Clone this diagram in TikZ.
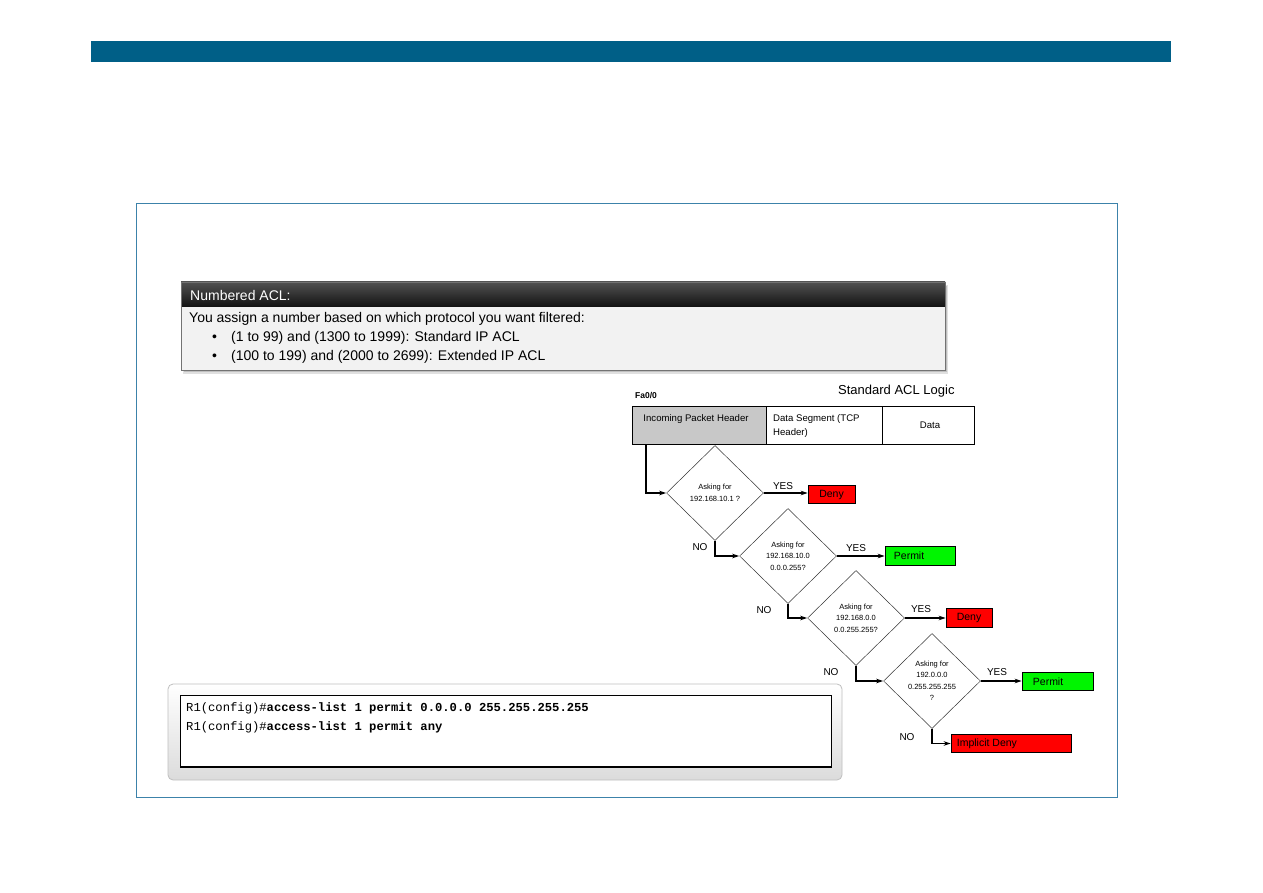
\documentclass[tikz,border=0pt]{standalone}
\usepackage{fontspec}
\setmainfont{Liberation Sans}
\setmonofont{Liberation Mono}
\usetikzlibrary{shapes.geometric,arrows.meta,shadows,calc}
\definecolor{barblue}{RGB}{0,95,135}
\definecolor{framebl}{RGB}{60,130,170}
\definecolor{cellgray}{RGB}{200,200,200}
\definecolor{dred}{RGB}{255,0,0}
\definecolor{dgreen}{RGB}{0,245,0}
\tikzset{
  diam/.style={draw=black!80, diamond, inner sep=0pt, minimum width=97pt, minimum height=95pt, line width=0.5pt, align=center, font=\fontsize{7.5}{11.5}\selectfont},
  res/.style={draw, line width=0.6pt, minimum height=18.5pt, inner sep=0pt},
  restext/.style={inner sep=0pt, font=\fontsize{10.5}{11}\selectfont},
  arr/.style={-{Stealth[length=7pt,width=4.5pt]}, line width=1.2pt},
  lbl/.style={font=\fontsize{10}{11}\selectfont, inner sep=0pt},
  cell/.style={draw, line width=0.6pt, minimum height=38pt, inner sep=0pt, anchor=north west},
  acltext/.style={anchor=west, font=\fontsize{14}{16}\selectfont, inner sep=0pt},
  codetext/.style={anchor=west, inner sep=0pt, font=\fontsize{12.2}{14}\ttfamily},
}
\begin{document}
\begin{tikzpicture}[x=1pt,y=-1pt]
\useasboundingbox (0,0) rectangle (1263,893);
\fill[white] (0,0) rectangle (1263,893);
% top bar
\fill[barblue] (91,41) rectangle (1171,62);
% outer frame
\draw[framebl, line width=0.8pt] (136,203) rectangle (1117,797);

% Numbered ACL box
\fill[black!12] (183,285) rectangle (948,374);
\fill[black!25] (184,286) rectangle (947,372);
\draw[black!55, fill=black!5, line width=0.6pt] (181,282) rectangle (945,370);
\shade[top color=black!68, bottom color=black!92] (181,282) rectangle (945,306);
\draw[black!55, line width=0.6pt] (181,282) rectangle (945,370);
\node[acltext] (hdr) at (190,295) {\textcolor{white}{Numbered ACL:}};
\node[acltext] (l1) at (189,319) {You assign a number based on which protocol you want filtered:};
\node[acltext] (b1) at (212,338) {•};
\node[acltext] (l2) at (231,338) {(1 to 99) and (1300 to 1999): Standard IP ACL};
\node[acltext] (b2) at (212,357) {•};
\node[acltext] (l3) at (231,357) {(100 to 199) and (2000 to 2699): Extended IP ACL};

% Standard ACL Logic
\node[anchor=west, font=\fontsize{8.5}{9}\selectfont\bfseries, inner sep=0pt] (fa) at (635,396) {Fa0/0};
\node[anchor=west, font=\fontsize{13}{14}\selectfont, inner sep=0pt] (title) at (838,391) {Standard ACL Logic};

\node[cell, fill=cellgray, minimum width=134pt] (c1) at (632,406) {};
\node[cell, minimum width=116pt] (c2) at (766,406) {};
\node[cell, minimum width=92pt] (c3) at (882,406) {};
\node[lbl, font=\fontsize{9.6}{11}\selectfont] (t1) at (696,419) {Incoming Packet Header};
\node[lbl, font=\fontsize{9.6}{14}\selectfont, anchor=north west, align=left] (t2) at (773,414) {Data Segment (TCP\\Header)};
\node[lbl, font=\fontsize{9.6}{11}\selectfont] (t3) at (930,425) {Data};

% diamonds
\node[diam] (d1) at (715,493) {Asking for\\192.168.10.1 ?};
\node[diam] (d2) at (788,556) {Asking for\\192.168.10.0\\0.0.0.255?};
\node[diam] (d3) at (856,618) {Asking for\\192.168.0.0\\0.0.255.255?};
\node[diam] (d4) at (932,681) {Asking for\\192.0.0.0\\0.255.255.255\\?};

% results
\node[res, fill=dred, minimum width=47pt] (r1) at (831.5,494.5) {};
\node[res, fill=dgreen, minimum width=70pt] (r2) at (920,556) {};
\node[res, fill=dred, minimum width=46pt] (r3) at (969,618) {};
\node[res, fill=dgreen, minimum width=71pt] (r4) at (1057.5,681.5) {};
\node[res, fill=dred, minimum width=120pt] (r5) at (1011,743.5) {};
\node[restext] (r1t) at (r1.center) {Deny};
\node[restext, anchor=west] (r2t) at ($(r2.west)+(9,0)$) {Permit};
\node[restext] (r3t) at (r3.center) {Deny};
\node[restext, anchor=west] (r4t) at ($(r4.west)+(11,0)$) {Permit};
\node[restext, anchor=west] (r5t) at ($(r5.west)+(6,0)$) {Implicit Deny};

% connectors
\coordinate (start) at ($(c1.south west)+(14,0)$);
\draw[arr] (start) |- (d1.west);
\draw[arr] (d1.east) -- (d1.east -| r1.west);
\draw[arr] (d2.east) -- (d2.east -| r2.west);
\draw[arr] (d3.east) -- (d3.east -| r3.west);
\draw[arr] (d4.east) -- (d4.east -| r4.west);
\draw[arr] (d1.south) |- (d2.west);
\draw[arr] (d2.south) |- (d3.west);
\draw[arr] (d3.south) |- (d4.west);
\draw[arr] (d4.south) |- (r5.west);

\node[lbl] (y1) at (783,486) {YES};
\node[lbl] (y2) at (856,548) {YES};
\node[lbl] (y3) at (921,609) {YES};
\node[lbl] (y4) at (997,672) {YES};
\node[lbl] (n1) at (700,547) {NO};
\node[lbl] (n2) at (764,610) {NO};
\node[lbl] (n3) at (831,672) {NO};
\node[lbl] (n4) at (907,737) {NO};

% code box
\shade[top color=white, bottom color=black!14, rounded corners=5pt, draw=black!25, line width=0.8pt] (168,684) rectangle (842,780);
\draw[black, fill=white, line width=0.8pt] (180,695) rectangle (831,767);
\draw[black, line width=1.8pt] (180,767) -- (831,767);
\node[codetext] (code1) at (186,708) {R1(config)\#\textbf{access-list 1 permit 0.0.0.0 255.255.255.255}};
\node[codetext] (code2) at (186,727) {R1(config)\#\textbf{access-list 1 permit any}};
\end{tikzpicture}
\end{document}
